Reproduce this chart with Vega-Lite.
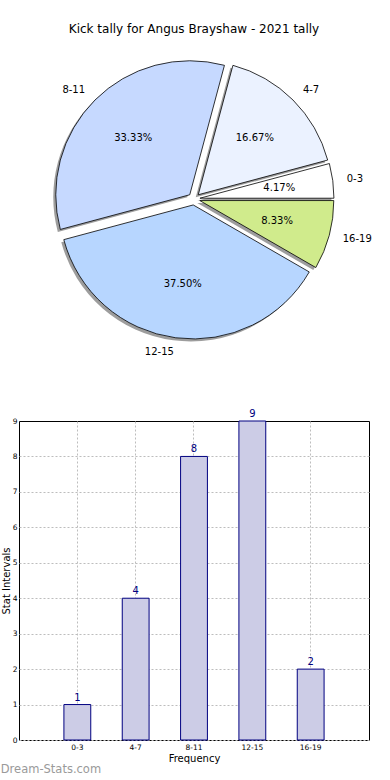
{
  "$schema": "https://vega.github.io/schema/vega-lite/v6.json",
  "padding": {"left": 0, "top": 23, "right": 0, "bottom": 0},
  "background": "white",
  "config": {"font": "DejaVu Sans", "view": {"stroke": null}},
  "datasets": {
    "tally": [
      {"interval": "0-3", "count": 1, "order": 1},
      {"interval": "4-7", "count": 4, "order": 2},
      {"interval": "8-11", "count": 8, "order": 3},
      {"interval": "12-15", "count": 9, "order": 4},
      {"interval": "16-19", "count": 2, "order": 5}
    ]
  },
  "title": {"text": "Dream-Stats.com", "orient": "bottom", "anchor": "start", "frame": "bounds", "color": "#9a9a9a", "fontSize": 11.5, "fontWeight": "normal", "offset": 0},
  "bounds": "flush",
  "spacing": 82,
  "vconcat": [
    {
      "width": 350,
      "height": 280,
      "title": {"text": "Kick tally for Angus Brayshaw - 2021 tally", "fontSize": 12, "fontWeight": "normal", "color": "black", "offset": 23, "anchor": "middle"},
      "data": {"name": "tally"},
      "transform": [
        {"joinaggregate": [{"op": "sum", "field": "count", "as": "total"}]},
        {"calculate": "datum.count / datum.total", "as": "share"}
      ],
      "encoding": {
        "theta": {"field": "count", "type": "quantitative", "stack": true, "scale": {"range": [1.5707963, -4.712389]}},
        "order": {"field": "order", "type": "quantitative"}
      },
      "layer": [
        {
          "mark": {"type": "arc", "outerRadius": 134, "fill": "#4d4d4d", "opacity": 0.55,
            "xOffset": {"expr": "6*cos(PI*(datum.count_start+datum.count_end)/datum.total) - 2.5"},
            "yOffset": {"expr": "-6*sin(PI*(datum.count_start+datum.count_end)/datum.total) + 2.5"}}
        },
        {
          "mark": {"type": "arc", "outerRadius": 134, "stroke": "black", "strokeWidth": 0.8,
            "xOffset": {"expr": "6*cos(PI*(datum.count_start+datum.count_end)/datum.total)"},
            "yOffset": {"expr": "-6*sin(PI*(datum.count_start+datum.count_end)/datum.total)"}},
          "encoding": {
            "color": {"field": "interval", "type": "nominal",
              "scale": {"domain": ["0-3", "4-7", "8-11", "12-15", "16-19"], "range": ["#FFFFFF", "#EBF2FF", "#C6D9FF", "#B7D6FF", "#D0EB8C"]},
              "legend": null}
          }
        },
        {
          "mark": {"type": "text", "radius": 80, "fontSize": 10, "color": "black", "baseline": "middle", "align": "center",
            "xOffset": {"expr": "6*cos(PI*(datum.count_start+datum.count_end)/datum.total)"},
            "yOffset": {"expr": "-6*sin(PI*(datum.count_start+datum.count_end)/datum.total)"}},
          "encoding": {"text": {"field": "share", "type": "quantitative", "format": ".2%"}}
        },
        {
          "mark": {"type": "text", "radius": 148, "fontSize": 10, "color": "black", "baseline": "middle",
            "align": {"expr": "cos(PI*(datum.count_start+datum.count_end)/datum.total) > 0 ? 'left' : 'right'"},
            "xOffset": {"expr": "6*cos(PI*(datum.count_start+datum.count_end)/datum.total)"},
            "yOffset": {"expr": "-6*sin(PI*(datum.count_start+datum.count_end)/datum.total)"}},
          "encoding": {"text": {"field": "interval", "type": "nominal"}}
        }
      ]
    },
    {
      "width": 350,
      "height": 319,
      "data": {"name": "tally"},
      "view": {"stroke": "black", "strokeWidth": 1},
      "encoding": {
        "x": {"field": "interval", "type": "nominal", "sort": {"field": "order"},
          "scale": {"paddingInner": 0, "paddingOuter": 0.5},
          "axis": {"title": "Frequency", "labelAngle": 0, "labelFontSize": 7.5, "labelColor": "black", "labelPadding": 3, "tickSize": 0,
            "grid": true, "gridDash": [2, 2], "gridColor": "#bdbdbd", "bandPosition": 0.5, "domain": false,
            "titleFontSize": 10, "titleFontWeight": "normal", "titlePadding": 3, "titleColor": "black"}},
        "y": {"field": "count", "type": "quantitative", "scale": {"domain": [0, 9]},
          "axis": {"title": "Stat Intervals", "values": [0, 1, 2, 3, 4, 5, 6, 7, 8, 9], "labelFontSize": 7.5, "labelColor": "black", "labelPadding": 2, "tickSize": 0,
            "grid": true, "gridDash": [2, 2], "gridColor": "#bdbdbd", "domain": false,
            "gridOpacity": {"condition": {"test": "datum.value == 9", "value": 0}, "value": 1},
            "titleFontSize": 10, "titleFontWeight": "normal", "titlePadding": 1, "titleColor": "black"}}
      },
      "layer": [
        {"mark": {"type": "bar", "fill": "#CCCCE6", "stroke": "#000080", "strokeWidth": 1, "width": {"band": 0.46}}},
        {"mark": {"type": "text", "color": "#000080", "fontSize": 10, "baseline": "bottom", "dy": -2},
          "encoding": {"text": {"field": "count", "type": "quantitative"}}}
      ]
    }
  ]
}
